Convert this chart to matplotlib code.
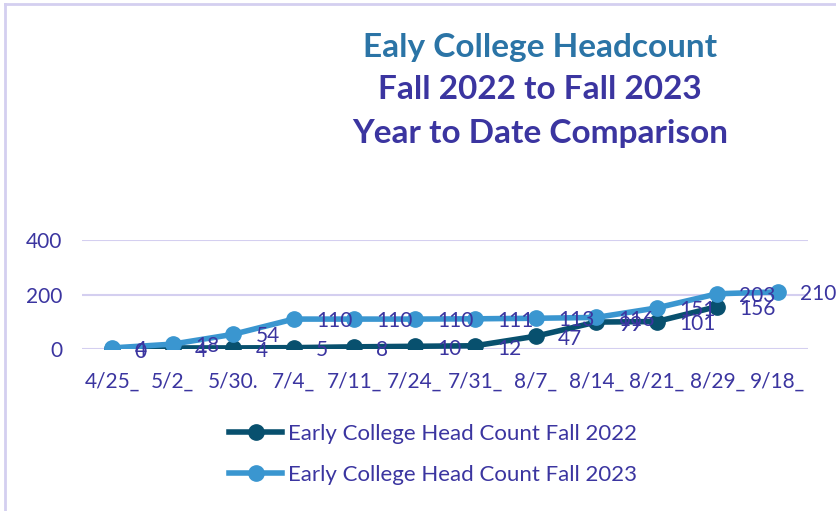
import matplotlib.pyplot as plt
from matplotlib.lines import Line2D

plt.rcParams['font.family'] = ['Lato', 'DejaVu Sans']

datas = ['4/25_', '5/2_', '5/30.', '7/4_', '7/11_', '7/24_', '7/31_', '8/7_', '8/14_', '8/21_', '8/29_', '9/18_']
fall_2022 = [0, 4, 4, 5, 8, 10, 12, 47, 99, 101, 156]
fall_2023 = [4, 18, 54, 110, 110, 110, 111, 113, 116, 151, 203, 210]
yticks = [0, 200, 400]

cor_2022 = '#08506E'
cor_2023 = '#3A96D0'
cor_texto = '#3B35A0'
cor_grade = '#D4CFF0'

fig = plt.figure(figsize=(8.36, 5.11), dpi=100)
ax = fig.add_axes([0.098, 0.317, 0.8685, 0.213])

x22 = list(range(len(fall_2022)))
x23 = list(range(len(fall_2023)))
ax.plot(x22, fall_2022, color=cor_2022, lw=4, marker='o', ms=11, zorder=3,
        label='Early College Head Count Fall 2022')
ax.plot(x23, fall_2023, color=cor_2023, lw=4, marker='o', ms=11, zorder=4,
        label='Early College Head Count Fall 2023')

# rotulos de dados (a direita de cada ponto)
for x, v in zip(x22, fall_2022):
    ax.annotate(str(v), (x, v), xytext=(16, -2), textcoords='offset points',
                ha='left', va='center', fontsize=15, color=cor_texto, zorder=5)
for x, v in zip(x23, fall_2023):
    ax.annotate(str(v), (x, v), xytext=(16, -1.5), textcoords='offset points',
                ha='left', va='center', fontsize=15, color=cor_texto, zorder=5)

ax.set_xlim(-0.5, 11.5)
ax.set_ylim(0, 400)
ax.set_yticks(yticks)
ax.set_xticks(range(len(datas)))
ax.set_xticklabels(datas)
ax.tick_params(length=0, labelsize=15, labelcolor=cor_texto)
ax.tick_params(axis='x', pad=16)
ax.tick_params(axis='y', pad=14)
ax.grid(axis='y', color=cor_grade, lw=1.5)
ax.set_axisbelow(True)
for s in ax.spines.values():
    s.set_visible(False)

# titulo
fig.text(0.646, 0.908, 'Ealy College Headcount', ha='center', va='center',
         fontsize=24, fontweight='bold', color='#2B74A6')
fig.text(0.646, 0.825, 'Fall 2022 to Fall 2023', ha='center', va='center',
         fontsize=24, fontweight='bold', color=cor_texto)
fig.text(0.646, 0.739, 'Year to Date Comparison', ha='center', va='center',
         fontsize=24, fontweight='bold', color=cor_texto)

handles = [Line2D([], [], color=cor_2022, lw=4, marker='o', ms=11),
           Line2D([], [], color=cor_2023, lw=4, marker='o', ms=11)]
fig.legend(handles, ['Early College Head Count Fall 2022', 'Early College Head Count Fall 2023'],
           loc='center', bbox_to_anchor=(0.518, 0.111), frameon=False, fontsize=16,
           labelcolor=cor_texto, handlelength=2.4, handletextpad=0.25, labelspacing=0.95)

# borda do grafico (so aparecem topo e esquerda)
fig.add_artist(Line2D([0.006, 0.006], [0, 0.992], color=cor_grade, lw=2, transform=fig.transFigure))
fig.add_artist(Line2D([0.006, 1], [0.992, 0.992], color=cor_grade, lw=2, transform=fig.transFigure))

fig.savefig('out.png', dpi=100)
